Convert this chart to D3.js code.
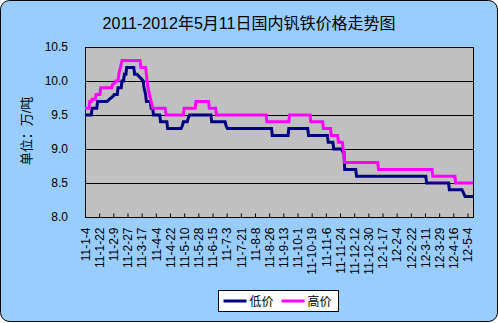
<!DOCTYPE html>
<html>
<head>
<meta charset="utf-8">
<script src="https://cdn.jsdelivr.net/npm/d3@7"></script>
<style>
	body { margin: 0; background: #fff; }
	text { font-family: "Liberation Sans", "Noto Sans CJK SC", sans-serif; }
</style>
</head>
<body>
<svg id="chart" width="498" height="323"></svg>
<script>
// 数据: 低价 / 高价 (万元/吨), 按日期折点
const lowDates = [
	"2011-01-04", "2011-01-12", "2011-01-13", "2011-01-19", "2011-01-20", "2011-02-01",
	"2011-02-05", "2011-02-09", "2011-02-10", "2011-02-14", "2011-02-15", "2011-02-19",
	"2011-02-20", "2011-02-22", "2011-02-23", "2011-02-25", "2011-02-26", "2011-03-07",
	"2011-03-08", "2011-03-11", "2011-03-15", "2011-03-19", "2011-03-20", "2011-03-22",
	"2011-03-23", "2011-03-28", "2011-03-29", "2011-03-31", "2011-04-01", "2011-04-09",
	"2011-04-10", "2011-04-18", "2011-04-19", "2011-05-06", "2011-05-08", "2011-05-09",
	"2011-05-14", "2011-05-15", "2011-05-17", "2011-06-13", "2011-06-14", "2011-07-01",
	"2011-07-02", "2011-07-04", "2011-08-29", "2011-08-30", "2011-09-19", "2011-09-20",
	"2011-10-14", "2011-10-15", "2011-11-08", "2011-11-09", "2011-11-15", "2011-11-16",
	"2011-11-26", "2011-11-28", "2011-11-29", "2011-11-30", "2011-12-14", "2011-12-15",
	"2012-03-12", "2012-03-13", "2012-04-10", "2012-04-11", "2012-04-27", "2012-04-29",
	"2012-05-01", "2012-05-11"
];
const lowValues = [
	9.5, 9.5, 9.6, 9.6, 9.7, 9.7,
	9.74, 9.78, 9.8, 9.8, 9.9, 9.9,
	10.0, 10.0, 10.1, 10.1, 10.2, 10.2,
	10.1, 10.1, 10.05, 10.0, 9.9, 9.8,
	9.7, 9.7, 9.6, 9.6, 9.5, 9.5,
	9.4, 9.4, 9.3, 9.3, 9.35, 9.4,
	9.4, 9.45, 9.5, 9.5, 9.4, 9.4,
	9.35, 9.3, 9.3, 9.2, 9.2, 9.3,
	9.3, 9.2, 9.2, 9.1, 9.1, 9.0,
	9.0, 8.95, 8.95, 8.7, 8.7, 8.6,
	8.6, 8.5, 8.5, 8.4, 8.4, 8.35,
	8.3, 8.3
];

const highDates = [
	"2011-01-04", "2011-01-09", "2011-01-10", "2011-01-12", "2011-01-13", "2011-01-17",
	"2011-01-18", "2011-01-23", "2011-01-24", "2011-02-07", "2011-02-08", "2011-02-11",
	"2011-02-12", "2011-02-15", "2011-02-16", "2011-02-18", "2011-02-20", "2011-03-15",
	"2011-03-16", "2011-03-22", "2011-03-23", "2011-03-25", "2011-03-27", "2011-03-29",
	"2011-03-31", "2011-04-16", "2011-04-17", "2011-05-09", "2011-05-10", "2011-05-24",
	"2011-05-25", "2011-06-10", "2011-06-11", "2011-06-19", "2011-06-20", "2011-08-22",
	"2011-08-23", "2011-09-20", "2011-09-21", "2011-10-17", "2011-10-18", "2011-11-02",
	"2011-11-03", "2011-11-12", "2011-11-13", "2011-11-21", "2011-11-22", "2011-11-27",
	"2011-11-28", "2011-11-30", "2012-01-11", "2012-01-12", "2012-03-20", "2012-03-21",
	"2012-04-18", "2012-04-19", "2012-05-11"
];
const highValues = [
	9.6, 9.6, 9.7, 9.7, 9.73, 9.73,
	9.8, 9.8, 9.9, 9.9, 9.95, 9.97,
	10.0, 10.0, 10.1, 10.2, 10.3, 10.3,
	10.2, 10.2, 10.1, 9.9, 9.8, 9.7,
	9.6, 9.6, 9.5, 9.5, 9.6, 9.6,
	9.7, 9.7, 9.6, 9.6, 9.5, 9.5,
	9.4, 9.4, 9.5, 9.5, 9.4, 9.4,
	9.3, 9.3, 9.2, 9.2, 9.1, 9.1,
	9.0, 8.8, 8.8, 8.7, 8.7, 8.6,
	8.6, 8.5, 8.5
];

const xTickLabels = [
	"11-1-4", "11-1-22", "11-2-9", "11-2-27", "11-3-17", "11-4-4", "11-4-22",
	"11-5-10", "11-5-28", "11-6-15", "11-7-3", "11-7-21", "11-8-8", "11-8-26",
	"11-9-13", "11-10-1", "11-10-19", "11-11-6", "11-11-24", "11-12-12", "11-12-30",
	"12-1-17", "12-2-4", "12-2-22", "12-3-11", "12-3-29", "12-4-16", "12-5-4"
];
const yTicks = [8.0, 8.5, 9.0, 9.5, 10.0, 10.5];

const titleText = "2011-2012年5月11日国内钒铁价格走势图";
const yTitle = "单位：万/吨";
const seriesNames = ["低价", "高价"];
const seriesColors = ["#000080", "#ff00ff"];

const parseDay = d3.timeParse("%Y-%m-%d");
const parseTick = d3.timeParse("%y-%m-%d");

const plot = { left: 85, top: 47, width: 388, height: 170 };

const svg = d3.select("#chart");

// 外框
svg.append("rect")
	.attr("x", 0.5).attr("y", 0.5)
	.attr("width", 497).attr("height", 321)
	.attr("rx", 9)
	.attr("fill", "#99ccff")
	.attr("stroke", "#000");

const x = d3.scaleTime()
	.domain([parseDay("2011-01-04"), parseDay("2012-05-11")])
	.range([plot.left, plot.left + plot.width]);

const y = d3.scaleLinear()
	.domain([8, 10.5])
	.range([plot.top + plot.height, plot.top]);

svg.append("rect")
	.attr("x", plot.left + 0.5).attr("y", plot.top + 0.5)
	.attr("width", plot.width).attr("height", plot.height)
	.attr("fill", "#c0c0c0")
	.attr("stroke", "#000");

// 网格线
svg.append("g")
	.selectAll("line")
	.data(yTicks.slice(1, -1))
	.join("line")
	.attr("x1", plot.left)
	.attr("x2", plot.left + plot.width)
	.attr("y1", (d) => Math.round(y(d)) + 0.5)
	.attr("y2", (d) => Math.round(y(d)) + 0.5)
	.attr("stroke", "#000");

// y 轴
const yAxis = svg.append("g")
	.attr("transform", `translate(${plot.left},0)`)
	.call(d3.axisLeft(y).tickValues(yTicks).tickFormat(d3.format(".1f")).tickSize(0).tickPadding(17));
yAxis.select(".domain").remove();
yAxis.selectAll("text")
	.attr("font-size", 12)
	.attr("font-family", "Liberation Mono, DejaVu Sans Mono, monospace")
	.attr("fill", "#000");

// x 轴 (刻度朝内)
const xTicks = xTickLabels.map((s) => parseTick(s));
const xAxis = svg.append("g")
	.attr("transform", `translate(0,${plot.top + plot.height + 0.5})`)
	.call(d3.axisBottom(x).tickValues(xTicks).tickSize(0).tickFormat((d, i) => xTickLabels[i]));
xAxis.select(".domain").remove();
xAxis.selectAll(".tick line")
	.attr("y2", -4)
	.attr("stroke", "#000");
xAxis.selectAll(".tick text")
	.attr("font-size", 12)
	.attr("fill", "#000")
	.attr("text-anchor", "end")
	.attr("transform", "rotate(-90)")
	.attr("x", -10)
	.attr("y", 0)
	.attr("dy", "0.35em");

// 折线
const line = d3.line()
	.x((d) => x(d.date))
	.y((d) => y(d.value));

const series = [
	{ name: seriesNames[0], color: seriesColors[0],
		points: lowDates.map((d, i) => ({ date: parseDay(d), value: lowValues[i] })) },
	{ name: seriesNames[1], color: seriesColors[1],
		points: highDates.map((d, i) => ({ date: parseDay(d), value: highValues[i] })) },
];

svg.append("g")
	.selectAll("path")
	.data(series)
	.join("path")
	.attr("fill", "none")
	.attr("stroke", (d) => d.color)
	.attr("stroke-width", 3)
	.attr("d", (d) => line(d.points));

// 标题
svg.append("text")
	.attr("x", 249)
	.attr("y", 29)
	.attr("text-anchor", "middle")
	.attr("font-size", 16)
	.attr("font-family", "Noto Sans CJK SC")
	.text(titleText);

svg.append("text")
	.attr("transform", "translate(31,131) rotate(-90)")
	.attr("text-anchor", "middle")
	.attr("font-size", 13)
	.attr("font-family", "Noto Sans CJK SC")
	.text(yTitle);

// 图例
const legend = svg.append("g").attr("transform", "translate(218.5,290.5)");
legend.append("rect")
	.attr("width", 120).attr("height", 21)
	.attr("fill", "#fff").attr("stroke", "#000");
const item = legend.selectAll("g")
	.data(series)
	.join("g")
	.attr("transform", (d, i) => `translate(${5 + i * 58},0)`);
item.append("line")
	.attr("x1", 0).attr("x2", 23)
	.attr("y1", 10.5).attr("y2", 10.5)
	.attr("stroke", (d) => d.color)
	.attr("stroke-width", 3);
item.append("text")
	.attr("x", 26).attr("y", 15)
	.attr("font-size", 12)
	.attr("font-family", "Noto Sans CJK SC")
	.text((d) => d.name);
</script>
</body>
</html>
